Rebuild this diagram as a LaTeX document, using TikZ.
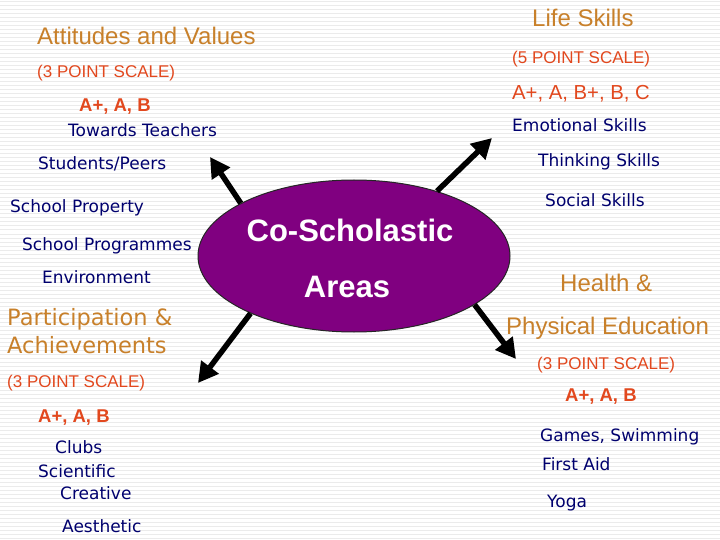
\documentclass[tikz,border=0pt]{standalone}
\usepackage{fontspec}
\setmainfont{Liberation Sans}
\newfontfamily\handfont{DejaVu Sans}
\usetikzlibrary{arrows.meta,shapes.geometric}

\definecolor{headbrown}{RGB}{200,128,42}
\definecolor{scalered}{RGB}{226,72,30}
\definecolor{itemblue}{RGB}{0,0,110}
\definecolor{areapurple}{RGB}{128,0,128}

\begin{document}
\begin{tikzpicture}[x=1pt,y=-1pt,
	head/.style={text=headbrown,font=\fontsize{24}{28}\selectfont,inner sep=0pt,anchor=base west},
	handhead/.style={text=headbrown,font=\handfont\fontsize{22.5}{26}\selectfont,inner sep=0pt,anchor=base west},
	pointscale/.style={text=scalered,font=\fontsize{17}{20}\selectfont,inner sep=0pt,anchor=base west},
	grades/.style={text=scalered,font=\bfseries\fontsize{18.5}{22}\selectfont,inner sep=0pt,anchor=base west},
	item/.style={text=itemblue,font=\handfont\fontsize{17}{20}\selectfont,inner sep=0pt,anchor=base west},
	area/.style={ellipse,draw=black!85,fill=areapurple,line width=1pt,minimum width=312pt,minimum height=152pt},
	areatext/.style={text=white,font=\bfseries\fontsize{31}{36}\selectfont,inner sep=0pt},
	spoke/.style={line width=5.5pt,-{Triangle[length=20pt,width=21pt]}}]

\useasboundingbox (0,0) rectangle (720,540);
\fill[white] (0,0) rectangle (720,540);
\foreach \s in {2,6,...,538}{
	\draw[color=gray!16,line width=1pt] (0,\s) -- (720,\s);
}

% the four groups round the centre
\node[head] (attval) at (37,45) {Attitudes and Values};
\node[pointscale] (attscale) at (37,78) {(3 POINT SCALE)};
\node[grades] (attgrade) at (79,112) {A+, A, B};
\node[item] (teach) at (68,137) {Towards Teachers};
\node[item] (peers) at (38,170) {Students/Peers};
\node[item] (prop) at (10,212) {School Property};
\node[item] (progr) at (22,251) {School Programmes};
\node[item] (envir) at (42,283) {Environment};

\node[head] (life) at (532,27) {Life Skills};
\node[pointscale] (lifescale) at (512,64) {(5 POINT SCALE)};
\node[pointscale,font=\fontsize{20.3}{24}\selectfont] (lifegrade) at (512,100) {A+, A, B+, B, C};
\node[item] (emot) at (512,132) {Emotional Skills};
\node[item] (think) at (538,167) {Thinking Skills};
\node[item] (social) at (545,207) {Social Skills};

\node[handhead] (part) at (7,325) {Participation \&};
\node[handhead] (achv) at (7,353) {Achievements};
\node[pointscale] (partscale) at (7,387) {(3 POINT SCALE)};
\node[grades] (partgrade) at (38,422) {A+, A, B};
\node[item] (clubs) at (55,453) {Clubs};
\node[item] (sci) at (38,477) {Scientific};
\node[item] (creat) at (60,499) {Creative};
\node[item] (aesth) at (62,532) {Aesthetic};

\node[head] (health) at (560,291) {Health \&};
\node[head] (phys) at (506,334) {Physical Education};
\node[pointscale] (physscale) at (537,369) {(3 POINT SCALE)};
\node[grades] (physgrade) at (565,401) {A+, A, B};
\node[item] (games) at (540,441) {Games, Swimming};
\node[item] (aid) at (542,470) {First Aid};
\node[item] (yoga) at (547,507) {Yoga};

% centre and spokes
\node[area] (cs) at (354,256) {};
\node[areatext] (csup) at (350,230) {Co-Scholastic};
\node[areatext] (csdown) at (347,287) {Areas};

\coordinate (tipa) at (210,157);
\coordinate (tipb) at (492,138);
\coordinate (tipc) at (198,383);
\coordinate (tipd) at (516,359);
\draw[spoke] (cs.155) -- (tipa);
\draw[spoke] (cs.38) -- (tipb);
\draw[spoke] (cs.209) -- (tipc);
\draw[spoke] (cs.338) -- (tipd);

\end{tikzpicture}
\end{document}
